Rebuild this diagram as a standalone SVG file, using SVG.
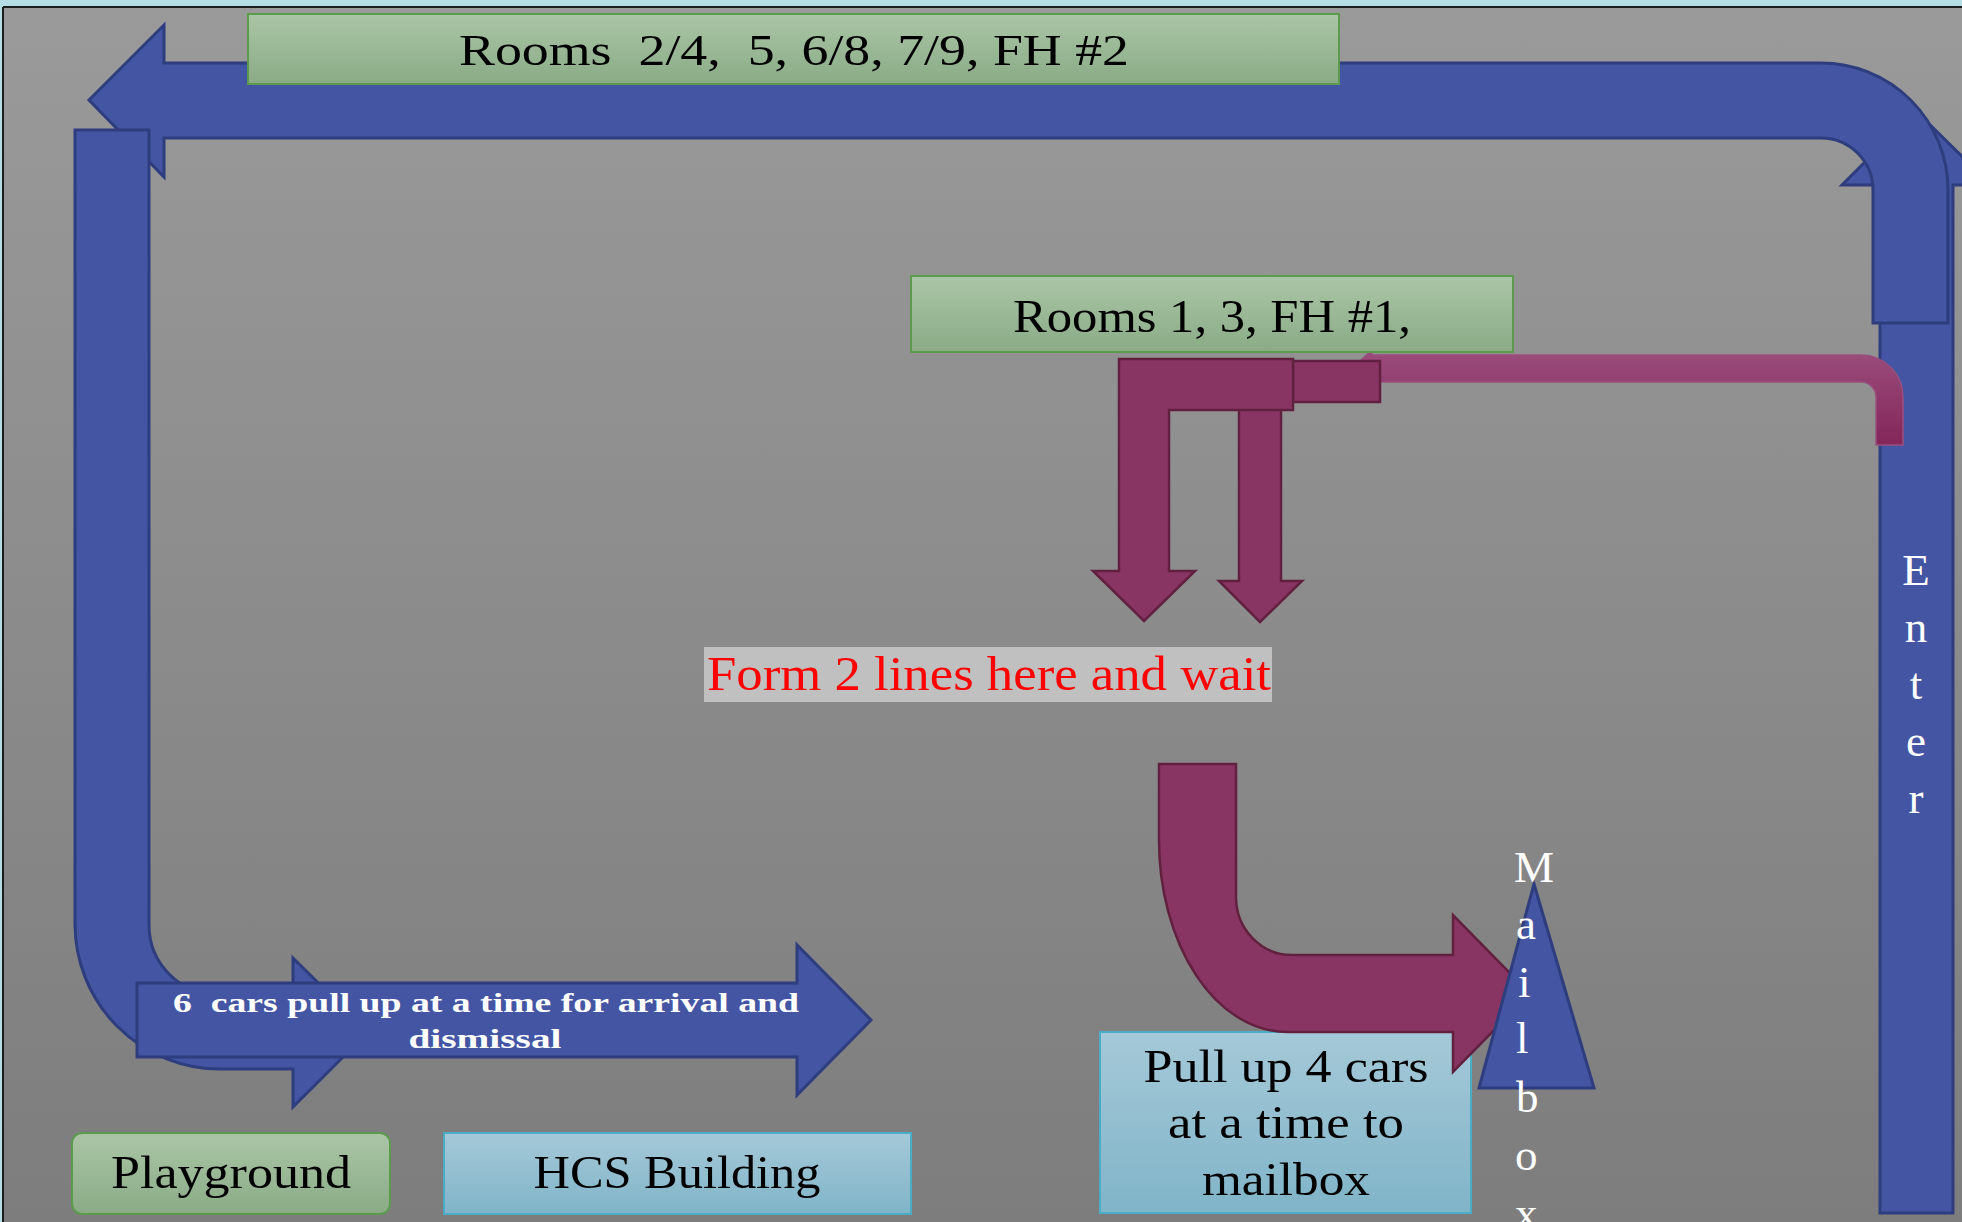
<svg xmlns="http://www.w3.org/2000/svg" width="1962" height="1222" viewBox="0 0 1962 1222">
<defs>
<linearGradient id="bg" x1="0" y1="0" x2="0" y2="1">
<stop offset="0" stop-color="#9a9a9a"/>
<stop offset="1" stop-color="#7d7d7d"/>
</linearGradient>
<linearGradient id="green" x1="0" y1="0" x2="0" y2="1">
<stop offset="0" stop-color="#aac5a6"/>
<stop offset="1" stop-color="#8aab86"/>
</linearGradient>
<linearGradient id="blue" x1="0" y1="0" x2="0" y2="1">
<stop offset="0" stop-color="#a5c9d8"/>
<stop offset="1" stop-color="#80b4c8"/>
</linearGradient>
<linearGradient id="pink" x1="0" y1="0" x2="0" y2="1">
<stop offset="0" stop-color="#9a4d7c"/>
<stop offset="1" stop-color="#84265a"/>
</linearGradient>
<style>
.serif{font-family:"Liberation Serif","DejaVu Serif",serif;}
.blueShape{fill:#4456a3;stroke:#2e3d7e;stroke-width:3;stroke-linejoin:miter;}
.purple{fill:#893564;stroke:#62203f;stroke-width:2.5;}
.gbox{fill:url(#green);stroke:#5c9b4d;stroke-width:2;}
.bbox{fill:url(#blue);stroke:#4bacc6;stroke-width:2;}
.lbl{font-family:"Liberation Serif","DejaVu Serif",serif;fill:#000;text-anchor:middle;}
.wl{font-family:"Liberation Serif","DejaVu Serif",serif;fill:#fff;font-size:45px;}
</style>
</defs>

<!-- frame / background -->
<rect x="0" y="0" width="1962" height="1222" fill="#b5dde6"/>
<rect x="3" y="7" width="1959" height="1215" fill="url(#bg)"/>
<line x1="3" y1="7" x2="1962" y2="7" stroke="#1c1c1c" stroke-width="2"/>
<line x1="3" y1="7" x2="3" y2="1222" stroke="#1c1c1c" stroke-width="2"/>

<g id="pullup-box">
<rect class="bbox" x="1100" y="1032" width="371" height="181"/>
<text class="lbl" font-size="46" x="1286" y="1082" textLength="285" lengthAdjust="spacingAndGlyphs">Pull up 4 cars</text>
<text class="lbl" font-size="46" x="1286" y="1138" textLength="236" lengthAdjust="spacingAndGlyphs">at a time to</text>
<text class="lbl" font-size="46" x="1286" y="1195" textLength="168" lengthAdjust="spacingAndGlyphs">mailbox</text>
</g>

<g id="connectors">
<!-- Enter up arrow -->
<g id="enter-arrow">
<path class="blueShape" d="M1880,1213 L1880,185 L1842,185 L1916,111 L1991,185 L1953,185 L1953,1213 Z"/>
</g>
<!-- top bent arrow -->
<path class="blueShape" d="M89,100 L164,25 L164,63 L1821,63 A127,127 0 0 1 1948,190 L1948,323 L1873,323 L1873,190 A52,52 0 0 0 1821,138 L164,138 L164,177 Z"/>
<!-- left J arrow -->
<path class="blueShape" d="M75,130 L149,130 L149,925 A70,70 0 0 0 219,995 L293,995 L293,958 L368,1032 L293,1107 L293,1069 L220,1069 A145,145 0 0 1 75,924 Z"/>
<!-- 6 cars arrow -->
<g id="six-cars-arrow">
<path class="blueShape" d="M137,983 L797,983 L797,945 L871,1020 L797,1095 L797,1057 L137,1057 Z"/>
<text font-family="Liberation Serif, DejaVu Serif, serif" font-weight="bold" font-size="28" fill="#fff" text-anchor="middle" x="486" y="1012" textLength="626" lengthAdjust="spacingAndGlyphs" style="white-space:pre">6  cars pull up at a time for arrival and</text>
<text font-family="Liberation Serif, DejaVu Serif, serif" font-weight="bold" font-size="28" fill="#fff" text-anchor="middle" x="485" y="1048" textLength="153" lengthAdjust="spacingAndGlyphs">dismissal</text>
</g>
<!-- thin pink arrow -->
<path fill="url(#pink)" stroke="#9a4f7c" stroke-width="1.5" d="M1372,355 L1861,355 A42,42 0 0 1 1903,397 L1903,445 L1876,445 L1876,397 A15,15 0 0 0 1861,382 L1372,382 L1372,387 L1352,368.5 L1372,350 Z"/>
<!-- second down arrow -->
<path class="purple" d="M1239,405 L1281,405 L1281,581 L1302,581 L1260,622 L1219,581 L1239,581 Z"/>
<!-- small connector rect -->
<rect class="purple" x="1293" y="361" width="87" height="41"/>
<!-- L down arrow -->
<path class="purple" d="M1119,359 L1293,359 L1293,410 L1169,410 L1169,571 L1195,571 L1144,621 L1093,571 L1119,571 Z"/>
<!-- big curved arrow to mailbox -->
<path class="purple" d="M1159,764 L1236,764 L1236,897 A56,58 0 0 0 1292,955 L1453,955 L1453,915 L1530,993.5 L1453,1072 L1453,1032 L1287,1032 A128,192 0 0 1 1159,840 Z"/>
</g>

<g id="rooms-2-4">
<rect class="gbox" x="248" y="14" width="1091" height="70"/>
<text class="lbl" font-size="45" x="794" y="65" textLength="670" lengthAdjust="spacingAndGlyphs" style="white-space:pre">Rooms  2/4,  5, 6/8, 7/9, FH #2</text>
</g>

<g id="rooms-1-3">
<rect class="gbox" x="911" y="276" width="602" height="76"/>
<text class="lbl" font-size="46" x="1212" y="332" textLength="398" lengthAdjust="spacingAndGlyphs">Rooms 1, 3, FH #1,</text>
</g>

<g id="form-lines">
<rect x="704" y="647" width="568" height="55" fill="#c0c0c0"/>
<text class="serif" font-size="48" fill="#ff0000" x="707" y="690" textLength="564" lengthAdjust="spacingAndGlyphs">Form 2 lines here and wait</text>
</g>

<g id="mailbox">
<path class="blueShape" d="M1534,884 L1594,1088 L1479,1088 Z" stroke-width="2.5"/>
<text class="wl" x="1514" y="882">M</text>
<text class="wl" x="1516" y="939">a</text>
<text class="wl" x="1518" y="997">i</text>
<text class="wl" x="1516" y="1053">l</text>
<text class="wl" x="1516" y="1112">b</text>
<text class="wl" x="1515" y="1170">o</text>
<text class="wl" x="1515" y="1228">x</text>
</g>

<g id="enter-label" text-anchor="middle">
<text class="wl" x="1916" y="585">E</text>
<text class="wl" x="1916" y="642">n</text>
<text class="wl" x="1916" y="699">t</text>
<text class="wl" x="1916" y="756">e</text>
<text class="wl" x="1916" y="813">r</text>
</g>

<g id="playground">
<rect class="gbox" x="72" y="1133" width="318" height="81" rx="10" ry="10"/>
<text class="lbl" font-size="46" x="231" y="1188" textLength="240" lengthAdjust="spacingAndGlyphs">Playground</text>
</g>

<g id="hcs-building">
<rect class="bbox" x="444" y="1133" width="467" height="81"/>
<text class="lbl" font-size="46" x="677" y="1188" textLength="287" lengthAdjust="spacingAndGlyphs">HCS Building</text>
</g>
</svg>
